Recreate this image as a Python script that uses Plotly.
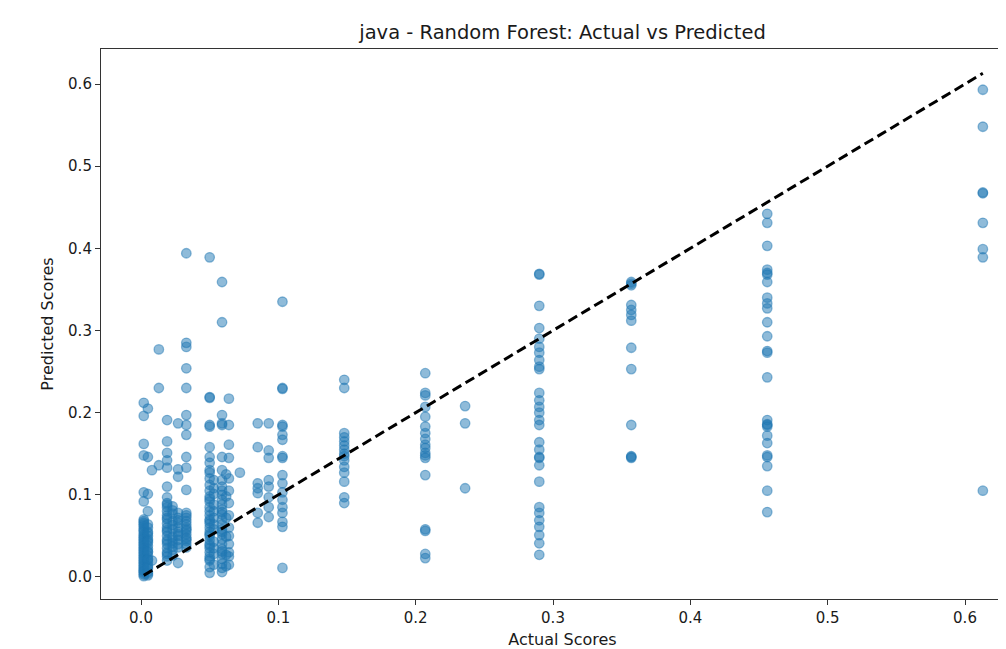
import plotly.graph_objects as go

# Actual score levels (x) and the predicted scores (y) observed at each level
actual_levels = [0.002, 0.005, 0.008, 0.013, 0.019, 0.023, 0.027, 0.033, 0.050,
                 0.053, 0.059, 0.062, 0.064, 0.072, 0.085, 0.093, 0.103, 0.148,
                 0.207, 0.236, 0.290, 0.357, 0.456, 0.613]

pred_0002 = [0.212, 0.196, 0.162, 0.148, 0.103, 0.092, 0.070, 0.066, 0.062, 0.057,
             0.052, 0.048, 0.044, 0.040, 0.036, 0.032, 0.028, 0.024, 0.020, 0.016,
             0.012, 0.008, 0.005, 0.003, 0.068, 0.059, 0.050, 0.042, 0.034, 0.026,
             0.018, 0.010, 0.001, 0.064, 0.055, 0.046, 0.038, 0.030, 0.022, 0.014,
             0.007]
pred_0005 = [0.205, 0.146, 0.101, 0.080, 0.060, 0.055, 0.050, 0.046, 0.042, 0.038,
             0.034, 0.030, 0.026, 0.022, 0.018, 0.014, 0.010, 0.006, 0.004, 0.002,
             0.064, 0.053, 0.044, 0.031, 0.021, 0.012]
pred_0008 = [0.130, 0.020]
pred_0013 = [0.277, 0.230, 0.136]
pred_0019 = [0.191, 0.165, 0.151, 0.142, 0.133, 0.110, 0.097, 0.090, 0.085, 0.080,
             0.075, 0.070, 0.065, 0.060, 0.055, 0.050, 0.045, 0.040, 0.035, 0.030,
             0.025, 0.020, 0.088, 0.072, 0.057, 0.043, 0.028]
pred_0023 = [0.086, 0.077, 0.068, 0.058, 0.049, 0.041, 0.033, 0.026, 0.081, 0.063,
             0.045, 0.037]
pred_0027 = [0.187, 0.131, 0.122, 0.078, 0.072, 0.066, 0.060, 0.055, 0.050, 0.045,
             0.040, 0.036, 0.017, 0.069, 0.052]
pred_0033 = [0.394, 0.285, 0.280, 0.254, 0.230, 0.197, 0.185, 0.173, 0.146, 0.133,
             0.106, 0.078, 0.072, 0.068, 0.064, 0.060, 0.056, 0.052, 0.048, 0.044,
             0.040, 0.036, 0.075, 0.058, 0.046]
pred_0050 = [0.389, 0.219, 0.218, 0.185, 0.183, 0.158, 0.146, 0.139, 0.130, 0.127,
             0.120, 0.112, 0.105, 0.098, 0.092, 0.085, 0.080, 0.075, 0.070, 0.065,
             0.060, 0.055, 0.050, 0.045, 0.040, 0.035, 0.030, 0.025, 0.020, 0.012,
             0.005, 0.095, 0.068, 0.052, 0.038, 0.022]
pred_0053 = [0.118, 0.101, 0.088, 0.072, 0.058, 0.043, 0.028, 0.015, 0.108, 0.080,
             0.064, 0.035]
pred_0059 = [0.359, 0.310, 0.197, 0.187, 0.185, 0.146, 0.130, 0.118, 0.110, 0.100,
             0.094, 0.088, 0.082, 0.076, 0.070, 0.064, 0.058, 0.052, 0.046, 0.040,
             0.034, 0.028, 0.022, 0.016, 0.011, 0.006, 0.105, 0.079, 0.055, 0.031]
pred_0062 = [0.125, 0.098, 0.072, 0.049, 0.027, 0.013]
pred_0064 = [0.217, 0.185, 0.161, 0.145, 0.120, 0.105, 0.090, 0.075, 0.060, 0.050,
             0.040, 0.030, 0.025, 0.015]
pred_0072 = [0.127]
pred_0085 = [0.187, 0.158, 0.114, 0.108, 0.102, 0.078, 0.066]
pred_0093 = [0.187, 0.154, 0.145, 0.118, 0.110, 0.097, 0.085, 0.073]
pred_0103 = [0.335, 0.230, 0.229, 0.185, 0.183, 0.173, 0.167, 0.147, 0.145, 0.124,
             0.114, 0.103, 0.094, 0.085, 0.078, 0.067, 0.061, 0.011]
pred_0148 = [0.240, 0.230, 0.175, 0.170, 0.165, 0.160, 0.155, 0.150, 0.147, 0.142,
             0.134, 0.127, 0.116, 0.097, 0.090]
pred_0207 = [0.248, 0.224, 0.221, 0.207, 0.195, 0.183, 0.175, 0.168, 0.161, 0.157,
             0.151, 0.148, 0.145, 0.124, 0.058, 0.056, 0.028, 0.023]
pred_0236 = [0.208, 0.187, 0.108]
pred_0290 = [0.369, 0.368, 0.330, 0.303, 0.290, 0.280, 0.273, 0.264, 0.256, 0.253,
             0.224, 0.215, 0.207, 0.200, 0.191, 0.185, 0.164, 0.155, 0.146, 0.145,
             0.136, 0.116, 0.085, 0.078, 0.069, 0.061, 0.051, 0.041, 0.027]
pred_0357 = [0.359, 0.357, 0.355, 0.331, 0.325, 0.319, 0.312, 0.279, 0.253, 0.185,
             0.147, 0.146, 0.145]
pred_0456 = [0.442, 0.431, 0.403, 0.374, 0.370, 0.368, 0.359, 0.340, 0.333, 0.327,
             0.310, 0.293, 0.275, 0.273, 0.243, 0.191, 0.186, 0.185, 0.183, 0.172,
             0.163, 0.148, 0.146, 0.135, 0.105, 0.079]
pred_0613 = [0.593, 0.548, 0.468, 0.467, 0.431, 0.399, 0.389, 0.105]

pred_by_level = [pred_0002, pred_0005, pred_0008, pred_0013, pred_0019, pred_0023,
                 pred_0027, pred_0033, pred_0050, pred_0053, pred_0059, pred_0062,
                 pred_0064, pred_0072, pred_0085, pred_0093, pred_0103, pred_0148,
                 pred_0207, pred_0236, pred_0290, pred_0357, pred_0456, pred_0613]

x_ticks = [0.0, 0.1, 0.2, 0.3, 0.4, 0.5, 0.6]
y_ticks = [0.0, 0.1, 0.2, 0.3, 0.4, 0.5, 0.6]

actual = []
predicted = []
for lvl, preds in zip(actual_levels, pred_by_level):
    actual.extend([lvl] * len(preds))
    predicted.extend(preds)

lo, hi = min(actual), max(actual)

# page has an 8px body margin; layout is offset accordingly
W, H = 1016, 641
L, T, B = 93, 41, 50

fig = go.Figure()
fig.add_trace(go.Scatter(
    x=actual, y=predicted, mode="markers",
    marker=dict(size=9.5, color="rgba(31,119,180,0.5)",
                line=dict(color="rgba(31,119,180,0.5)", width=1.3)),
    showlegend=False, hoverinfo="skip"))
fig.add_trace(go.Scatter(
    x=[lo, hi], y=[lo, hi], mode="lines",
    line=dict(color="black", width=3, dash="10px,5px"),
    showlegend=False, hoverinfo="skip"))

font = "DejaVu Sans"
fig.update_layout(
    width=W, height=H,
    margin=dict(l=L, r=0, t=T, b=B, pad=0, autoexpand=False),
    paper_bgcolor="white", plot_bgcolor="white",
    font=dict(family=font, size=14, color="#1a1a1a"),
    title=dict(text="java - Random Forest: Actual vs Predicted",
               xref="container", x=554.5 / W, xanchor="center",
               yref="container", y=1 - 24 / H, yanchor="middle",
               font=dict(family=font, size=19.5, color="#1a1a1a")),
    xaxis=dict(range=[-0.029126, 0.642961], tickvals=x_ticks,
               ticktext=[f"{v:.1f}" for v in x_ticks],
               showgrid=False, zeroline=False, automargin=False,
               showline=True, linecolor="#333", linewidth=1.1, mirror=True,
               ticks="outside", ticklen=5, tickcolor="#333", tickwidth=1.1,
               tickfont=dict(size=15),
               title=dict(text="Actual Scores", font=dict(size=16), standoff=8)),
    yaxis=dict(range=[-0.0268, 0.6426], tickvals=y_ticks,
               ticktext=[f"{v:.1f}" for v in y_ticks],
               showgrid=False, zeroline=False, automargin=False,
               showline=True, linecolor="#333", linewidth=1.1, mirror=True,
               ticks="outside", ticklen=5, tickcolor="#333", tickwidth=1.1,
               tickfont=dict(size=15),
               title=dict(text="Predicted Scores", font=dict(size=16), standoff=10)),
)

fig.write_html("out.html")
